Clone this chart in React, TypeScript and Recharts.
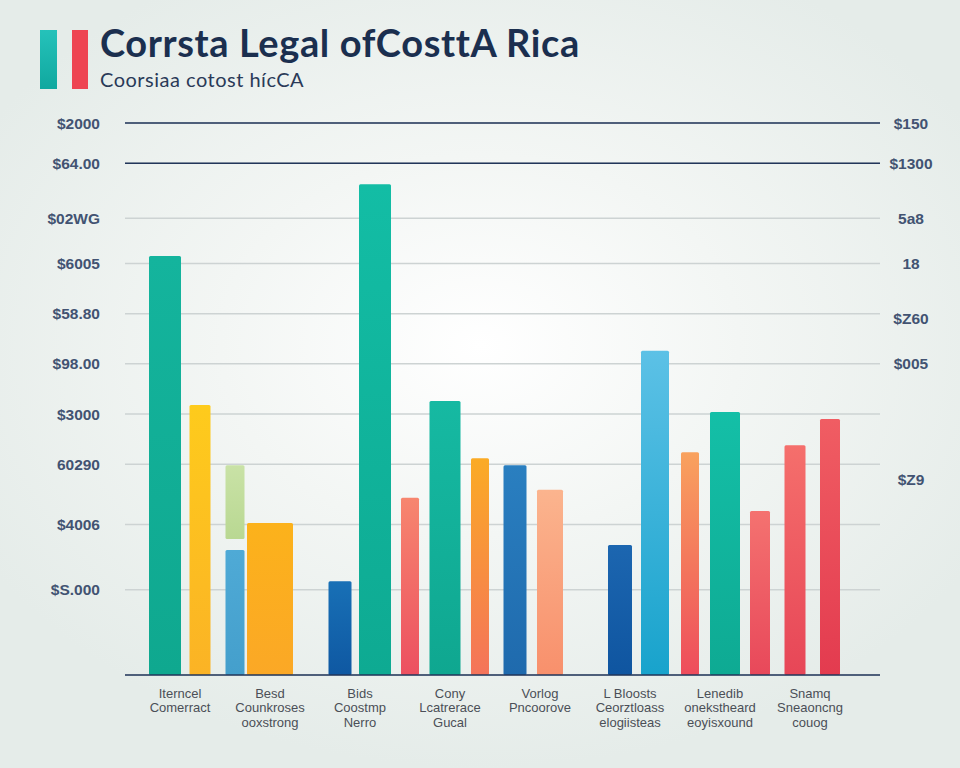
import React from "react";
import {
  BarChart,
  Bar,
  XAxis,
  YAxis,
  CartesianGrid,
  ReferenceLine,
} from "recharts";

// category labels along the bottom
const GROUPS = [
  "Iterncel\nComerract",
  "Besd\nCounkroses\nooxstrong",
  "Bids\nCoostmp\nNerro",
  "Cony\nLcatrerace\nGucal",
  "Vorlog\nPncoorove",
  "L Bloosts\nCeorztloass\nelogiisteas",
  "Lenedib\nonekstheard\neoyisxound",
  "Snamq\nSneaoncng\ncouog",
];

// which group every bar belongs to
const BAR_GROUP = [0, 0, 1, 1, 2, 2, 2, 3, 3, 4, 4, 5, 5, 5, 6, 6, 7, 7];

const BAR_VALUES = [
  83.5, 53.8, 24.9, 30.3, 18.7, 97.8, 35.3, 54.6, 43.2, 41.8, 36.9, 25.9, 64.6,
  44.4, 52.4, 32.7, 45.8, 51.0,
];

// the floating light green segment above bar 3
const UPPER_RANGES: ([number, number] | null)[] = [
  null, null, [27.1, 41.8], null, null, null, null, null, null, null, null,
  null, null, null, null, null, null, null,
];

// an empty slot follows these bars (gap between the three clusters)
const GAP_AFTER = [3, 10];

const LEFT_TICKS = [17, 30, 42, 52, 62, 72, 82, 91, 102, 110];
const LEFT_LABELS = [
  "$S.000",
  "$4006",
  "60290",
  "$3000",
  "$98.00",
  "$58.80",
  "$6005",
  "$02WG",
  "$64.00",
  "$2000",
];

const RIGHT_TICKS = [39, 62, 71, 82, 91, 102, 110];
const RIGHT_LABELS = ["$Z9", "$005", "$Z60", "18", "5a8", "$1300", "$150"];

// styles
const BAR_WIDTHS = [32, 21, 19, 46, 23, 32, 18, 31, 18, 23, 26, 24, 28, 18, 30, 20, 21, 20];
const BAR_FILLS: [string, string][] = [
  ["#14b49d", "#0fa88f"],
  ["#fecb1c", "#fbb325"],
  ["#4faad6", "#449fcc"],
  ["#fcb21b", "#fba826"],
  ["#1870b6", "#0f58a2"],
  ["#13bda5", "#0eaa92"],
  ["#f7866f", "#ec5060"],
  ["#16b9a2", "#0fa790"],
  ["#fbab25", "#f4735a"],
  ["#2a7fc0", "#1f6aad"],
  ["#fbb48e", "#f8906c"],
  ["#1c66b0", "#0f55a0"],
  ["#5cc1e6", "#18a3cc"],
  ["#f9a25e", "#ee4c5c"],
  ["#14bfa7", "#0eaa93"],
  ["#f47270", "#e8485a"],
  ["#f56f6c", "#e74657"],
  ["#f05d63", "#e33b4f"],
];
const NAVY = "#22365a";
const GRID = "#cdd3d3";

const data: any[] = [];
BAR_VALUES.forEach((v, i) => {
  data.push({
    id: `b${i}`,
    bar: i,
    group: GROUPS[BAR_GROUP[i]],
    value: v,
    upper: UPPER_RANGES[i],
  });
  if (GAP_AFTER.includes(i)) {
    data.push({ id: `gap${i}`, bar: -1, group: GROUPS[BAR_GROUP[i]], value: null, upper: null });
  }
});

const makeShape = (upper: boolean) => (props: any) => {
  const { x, y, width, height, payload } = props;
  const i = payload?.bar ?? -1;
  if (i < 0 || !height || height <= 0) return null;
  const w = BAR_WIDTHS[i];
  return (
    <rect
      x={x + width / 2 - w / 2}
      y={y}
      width={w}
      height={height}
      rx={1.5}
      fill={upper ? "url(#upperFill)" : `url(#barFill${i})`}
    />
  );
};

const GroupTick = (props: any) => {
  const { x, y, payload } = props;
  const lines = String(payload.value).split("\n");
  return (
    <text x={x} y={y} textAnchor="middle" fill="#4b4f57" fontSize={13} fontFamily="Liberation Sans, Arial, sans-serif">
      {lines.map((l, k) => (
        <tspan key={k} x={x} dy={14.5}>
          {l}
        </tspan>
      ))}
    </text>
  );
};

const tickFont = {
  fontSize: 15.5,
  fontWeight: 700,
  fill: "#425372",
  fontFamily: "Liberation Sans, Arial, sans-serif",
};

export default function App() {
  return (
    <div
      style={{
        position: "absolute",
        left: 0,
        top: 0,
        width: 960,
        height: 768,
        overflow: "hidden",
        background:
          "radial-gradient(ellipse 60% 55% at 50% 45%, #ffffff 0%, #f3f6f4 45%, #e5ece9 100%)",
        fontFamily: "Lato, 'Liberation Sans', sans-serif",
      }}
    >
      <div style={{ position: "absolute", left: 40, top: 30, width: 17, height: 59, background: "linear-gradient(#25c2ba, #10a89f)" }} />
      <div style={{ position: "absolute", left: 72, top: 30, width: 16, height: 59, background: "#ee4452" }} />
      <div
        style={{
          position: "absolute",
          left: 100,
          top: 19,
          fontSize: 38,
          fontWeight: 700,
          color: "#1b2f4f",
          letterSpacing: 0.6,
          whiteSpace: "nowrap",
        }}
      >
        Corrsta Legal ofCosttA Rica
      </div>
      <div
        style={{
          position: "absolute",
          left: 100,
          top: 67,
          fontSize: 20,
          color: "#2a3a58",
          letterSpacing: 0.5,
          whiteSpace: "nowrap",
        }}
      >
        Coorsiaa cotost hícCA
      </div>

      <div style={{ position: "absolute", left: 0, top: 0 }}>
        <BarChart
          width={960}
          height={768}
          data={data}
          margin={{ top: 123, right: 0, bottom: 0, left: 0 }}
          barCategoryGap={4}
          barGap={-24}
        >
          <defs>
            {BAR_FILLS.map(([a, b], i) => (
              <linearGradient key={i} id={`barFill${i}`} x1="0" y1="0" x2="0" y2="1">
                <stop offset="0%" stopColor={a} />
                <stop offset="100%" stopColor={b} />
              </linearGradient>
            ))}
            <linearGradient id="upperFill" x1="0" y1="0" x2="0" y2="1">
              <stop offset="0%" stopColor="#c9e2a6" />
              <stop offset="100%" stopColor="#b9d892" />
            </linearGradient>
          </defs>
          <CartesianGrid xAxisId="bars" yAxisId="left" vertical={false} stroke={GRID} strokeWidth={1.5} />
          <XAxis xAxisId="bars" dataKey="id" hide height={0} padding={{ left: 22, right: 33 }} />
          <XAxis
            xAxisId="groups"
            dataKey="group"
            allowDuplicatedCategory={false}
            height={93}
            padding={{ left: 10, right: 25 }}
            tickLine={false}
            axisLine={{ stroke: NAVY, strokeWidth: 1.5 }}
            tick={<GroupTick />}
            interval={0}
          />
          <YAxis
            yAxisId="left"
            width={125}
            domain={[0, 110]}
            ticks={LEFT_TICKS}
            tickFormatter={(v: number) => LEFT_LABELS[LEFT_TICKS.indexOf(v)] ?? ""}
            axisLine={false}
            tickLine={false}
            tickMargin={19}
            tick={tickFont}
            interval={0}
          />
          <YAxis
            yAxisId="right"
            orientation="right"
            width={80}
            domain={[0, 110]}
            ticks={RIGHT_TICKS}
            tickFormatter={(v: number) => RIGHT_LABELS[RIGHT_TICKS.indexOf(v)] ?? ""}
            axisLine={false}
            tickLine={false}
            tickMargin={25}
            tick={{ ...tickFont, textAnchor: "middle" }}
            interval={0}
          />
          <ReferenceLine yAxisId="left" xAxisId="bars" y={110} stroke={NAVY} strokeWidth={1.5} />
          <ReferenceLine yAxisId="left" xAxisId="bars" y={102} stroke={NAVY} strokeWidth={1.5} />
          <Bar
            xAxisId="bars"
            yAxisId="left"
            dataKey="value"
            barSize={24}
            shape={makeShape(false)}
            isAnimationActive={false}
          />
          <Bar
            xAxisId="bars"
            yAxisId="right"
            dataKey="upper"
            barSize={24}
            shape={makeShape(true)}
            isAnimationActive={false}
          />
        </BarChart>
      </div>
    </div>
  );
}
